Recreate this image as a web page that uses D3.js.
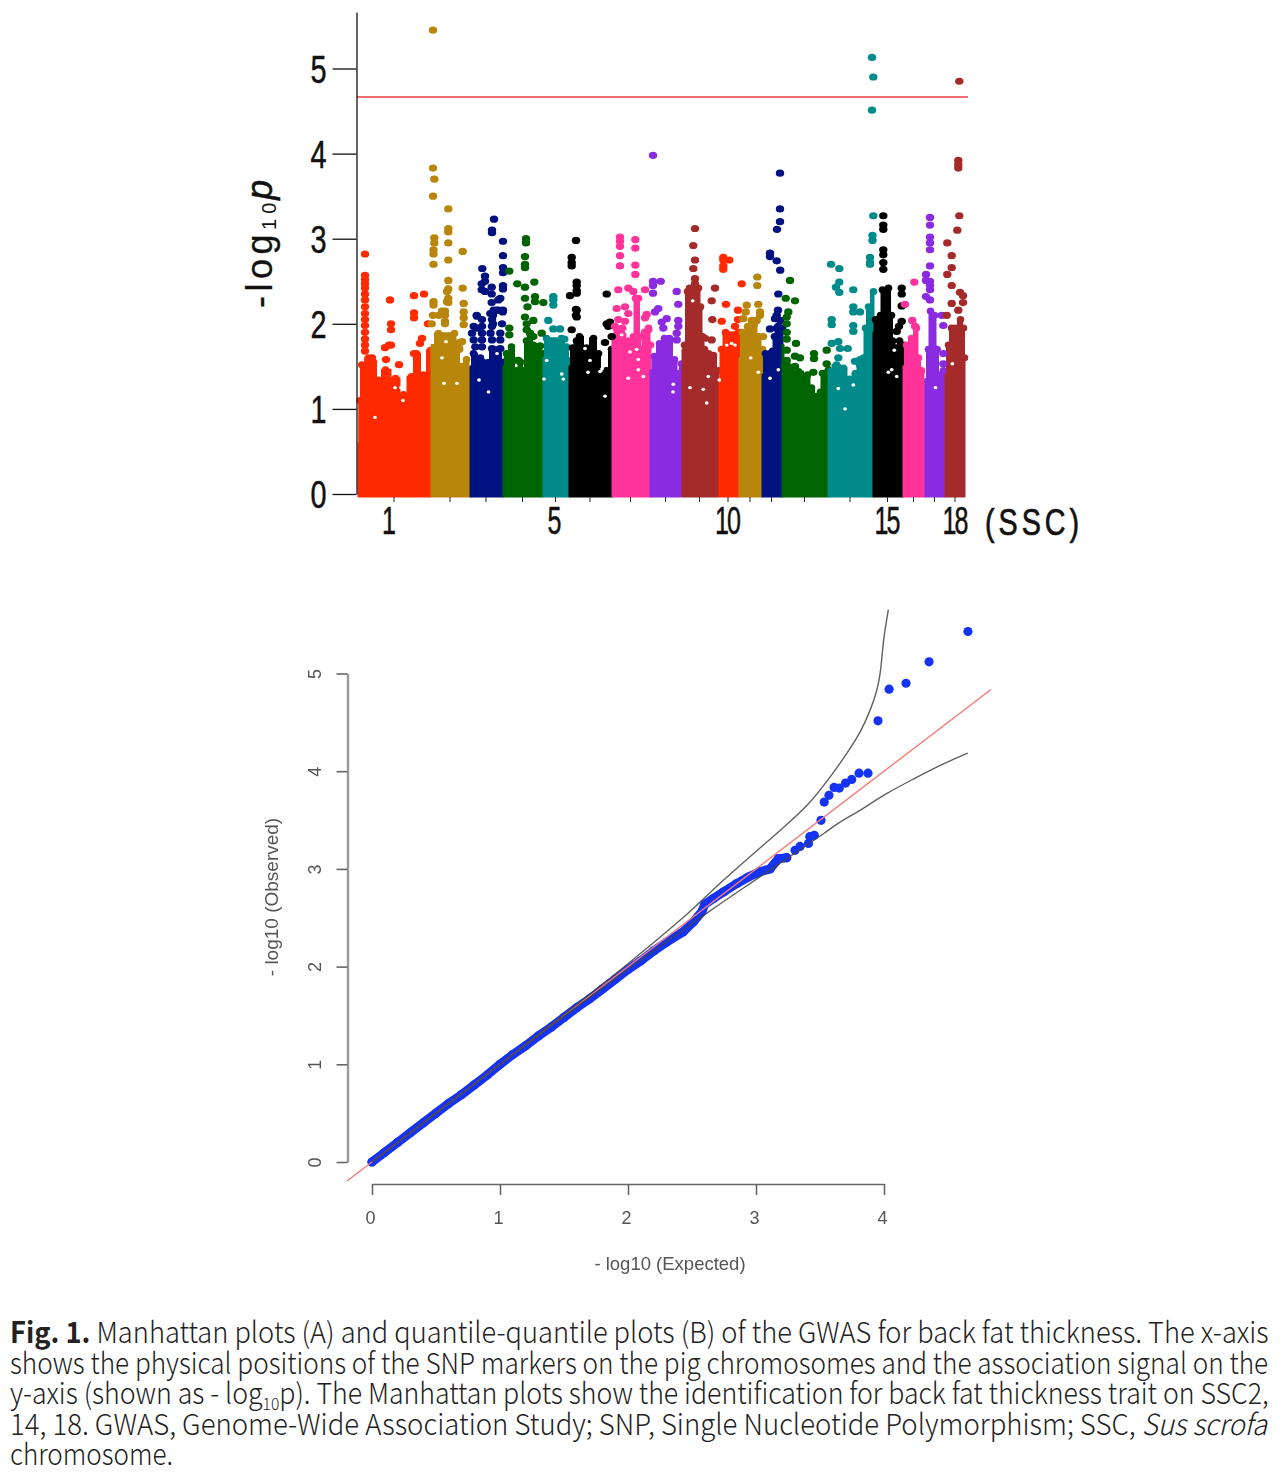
<!DOCTYPE html>
<html><head><meta charset="utf-8">
<script src="https://cdn.jsdelivr.net/npm/d3@7/dist/d3.min.js"></script>
<style>html,body{margin:0;padding:0;background:#fff}svg{display:block}</style></head>
<body><svg id="c" width="1288" height="1475"></svg>
<script>
// ---------- Manhattan plot (A) ----------
const chrNames=["1","2","3","4","5","6","7","8","9","10","11","12","13","14","15","16","17","18"];
const chrShownLabels=["1","5","10","15","18"];
// cumulative genome position of chromosome boundaries (arbitrary units)
const chrBounds=[0,73,112,145,185,211,254,292,324,360,381,404,424,470,515,545,567,587,608];
const chrColors=["#ff2a00","#b8860b","#00127f","#006400","#008b8b","#000000","#ff3399","#8a2be2","#a52a2a"];
const thresholdP=4.665;
const yTicks=[0,1,2,3,4,5];

// solid ceiling of each chromosome's cloud: [position, -log10 p]
const ceil1=[[0,.6],[1.5,1.1],[3.3,1.52],[10,1.6],[15,1.55],[20,1.34],[27,1.46],[37,1.36],[45,1.17],[53,1.38],[58,1.65],[65,1.4],[72,1.69]];
const ceil2=[[73,1.75],[80,1.89],[96,1.89],[98,1.68],[103,1.5],[108,1.58],[112,1.45]];
const ceil3=[[112,1.5],[115,1.65],[122,1.6],[128,1.55],[135,1.7],[140,1.7],[145,1.55]];
const ceil4=[[145,1.5],[148,1.65],[153,1.73],[158,1.45],[162,1.55],[165,1.45],[168,1.8],[172,1.85],[175,1.75],[180,1.7],[185,1.65]];
const ceil5=[[185,1.6],[188,1.83],[203,1.83],[208,1.73],[211,1.57]];
const ceil6=[[211,1.5],[214,1.72],[218,1.8],[221,1.85],[228,1.72],[235,1.83],[240,1.65],[243,1.4],[248,1.45],[253,1.7],[254,1.7]];
const ceil7=[[254,1.8],[258,1.95],[264,1.95],[270,1.8],[275,1.85],[277,2.3],[280,2.3],[281,1.85],[283,1.7],[286,1.9],[290,1.95],[292,1.75]];
const ceil8=[[292,1.45],[296,1.62],[301,1.77],[306,1.83],[311,1.83],[316,1.58],[320,1.42],[323,1.53]];
const ceil9=[[324,1.7],[326,1.75],[329,2.38],[331,2.42],[340,2.42],[342,2.2],[344,1.85],[346,1.7],[350,1.6],[355,1.63],[360,1.45]];
const ceil10=[[361,1.3],[363,1.7],[367,1.9],[380,1.9],[381,1.85]];
const ceil11=[[381,1.6],[384,1.9],[390,1.95],[396,2],[400,1.85],[404,1.7]];
const ceil12=[[404,1.4],[407,1.65],[414,1.68],[416,1.85],[418,1.95],[424,1.95]];
const ceil13=[[424,1.75],[426,1.5],[430,1.5],[440,1.44],[449,1.4],[453,1.25],[458,1.15],[462,1.2],[464,1.42],[470,1.46]];
const ceil14=[[470,1.47],[478,1.52],[485,1.48],[491,1.35],[497,1.42],[501,1.52],[505,1.6],[507,1.95],[510,2.2],[515,2.38]];
const ceil15=[[515,1.9],[517,2.05],[522,2.1],[524,2.4],[530,2.42],[533,2.1],[534,1.8],[538,1.72],[541,1.8],[545,1.75]];
const ceil16=[[545,1.5],[548,1.75],[553,1.83],[558,1.95],[560,1.6],[563,1.45],[567,1.3]];
const ceil17=[[567,1.35],[570,1.7],[572,2.15],[576,2.1],[578,1.7],[581,1.4],[585,1.45],[587,1.4]];
const ceil18=[[587,1.4],[590,1.75],[593,1.95],[597,1.95],[602,2.05],[605,1.95],[606,1.6]];
const ceilings=[ceil1,ceil2,ceil3,ceil4,ceil5,ceil6,ceil7,ceil8,ceil9,ceil10,ceil11,ceil12,ceil13,ceil14,ceil15,ceil16,ceil17,ceil18];

// separate visible markers: [position, [values...]]
const peaks1=[[8,[2.82,2.57,2.52,2.47,2.42,2.35,2.28,2.2,2.12,2.05,1.98,1.9,1.82,1.75,1.68]],[33,[2.28]],[57,[2.33,2.13,2.07,1.65]],[67,[2.35]],[34,[2,1.93,1.75]],[32,[1.75]],[28,[1.72]],[29,[1.58]],[42,[1.52]],[15,[1.6]],[71,[2]],[65,[1.83]],[63,[1.77]]];
const peaks2=[[76,[5.45,3.83,3.5,2.1]],[77.3,[3.7,3.01,2.95]],[76.5,[2.87,2.82,2.7,2.26,2.22]],[74.7,[2]],[91.3,[3.35,3.12,3.08,2.95,2.75,2.51,2.41,2.3,2.25]],[105.7,[2.85,2.42]],[106.7,[2.24,2.14,2.07,1.99]],[102.3,[1.78,1.7]],[88,[2.15,2.1,2.03,2]],[85,[2.15]],[81.7,[2.1]],[90,[2.38,2.26]],[105,[1.79]],[101.7,[1.73]]];
const peaks3=[[137,[3.23]],[135,[3.1,3.07,2.05,1.97,1.81,1.71]],[146,[2.97,2.8,2.66,2.6,2.45,2.41,2.16]],[125.3,[2.65]],[128,[2.56,2.5,2.38]],[124.7,[2.47,2.4]],[134.7,[2.43,2.35,2.25]],[141.3,[2.28]],[139.7,[2.16]],[119.7,[2.1,1.95]],[136,[2.1,2]],[116.7,[1.97,1.81]],[115,[1.89]],[118.3,[1.73]],[120,[2.09]],[125,[2.05,1.97,1.89,1.81,1.73]],[133.3,[2.12]],[136.7,[2.16]],[133.5,[1.89]],[141.7,[2.16]],[145.7,[2.14]],[145,[2]],[143.3,[2.3,1.89,1.81,1.71]]];
const peaks4=[[152.3,[2.62,1.95,1.87]],[169,[3,2.95]],[168,[2.79,2.7,2.66,2.43,2.3,2.08]],[160.3,[2.47]],[177.3,[2.49]],[178,[2.32,2.26]],[186.3,[2.25]],[170.5,[2.2]],[169.7,[2,1.93]],[176.3,[2.04,1.85]],[173,[1.89]],[184.7,[1.89]],[183,[1.74]],[161.3,[1.57]],[156.3,[1.57]]];
const peaks5=[[196.3,[2.32,2.28,2.22,1.94]],[191.3,[2.04]],[203,[1.94]],[207.3,[1.82]]];
const peaks6=[[219,[2.98,2.17,2.1]],[214.7,[2.78,2.72,2.68,1.93]],[219.7,[2.49,2.45,2.39,2.36,2.16,2.08]],[213,[2.33]],[249.7,[2.35,2]],[251.3,[1.97]],[253,[2.02]],[248,[1.78]],[254.7,[1.85]]];
const peaks7=[[263,[3.02,2.97,2.91,2.8,2.68]],[278.3,[2.99,2.89,2.69,2.58]],[261.3,[2.4,2.05]],[271.3,[2.42,2.12]],[276.3,[2.38]],[288,[2.4,2.07]],[259.7,[2.18]],[268,[2.2,2.03]],[258,[1.97]],[289.7,[2.11]],[291.3,[1.93]]];
const peaks8=[[296,[3.98,2.5,2.45,2.36]],[303.7,[2.5]],[298,[2.14]],[301.3,[2.18]],[309.7,[2.06,1.81]],[304.7,[2.02]],[306.3,[1.95]],[319.7,[2.38,1.89,1.81]],[321.3,[2.23,2.04,1.97]]];
const peaks9=[[338,[3.12,2.75,2.53,2.47]],[336.3,[2.92,2.65]],[358,[2.42]],[354.7,[2.27,1.81]],[355.3,[2.05]],[348,[1.83]],[351.3,[1.65]]];
const peaks10=[[366.3,[2.78,2.75,2.68,2.64]],[372.3,[2.75]],[369,[2.23]],[364.7,[2.03]],[384.7,[2.47]],[381,[2.16,2.05]],[378,[1.97]]];
const peaks11=[[400.3,[2.55,2.45]],[389.7,[2.22]],[401.3,[2.23]],[388.7,[2.14]],[403,[2.14,2.1]],[386.3,[2.06]],[394.7,[2.04]],[399.7,[2.04]],[391,[1.97]],[406,[1.85]]];
const peaks12=[[423,[3.77,3.35,3.2]],[420,[3.11]],[413,[2.83,2.79,1.94]],[419.7,[2.74,2.1]],[423.2,[2.63,2.04]],[421.3,[2.35,1.97]],[421,[2.16]],[418,[2.06]]];
const peaks13=[[428.7,[2.3]],[433,[2.51]],[438,[2.27,1.62,1.5]],[431.3,[2.14]],[429.7,[2.08,2,1.9,1.82,1.69,1.57]],[439,[1.77]],[443,[1.6]],[457,[1.65,1.59]],[456.3,[1.43]],[469.7,[1.69,1.53]]];
const peaks14=[[515,[5.13,4.51]],[516.3,[4.9,3.27]],[515.5,[3.04,2.98]],[513,[2.78,2.72,2.7]],[474,[2.7]],[482.3,[2.65,2.49,2.37]],[479,[2.43]],[496.3,[2.4,2.2,2.14,1.98,1.91]],[474.7,[2.05,1.99,1.77]],[503,[2.14,1.58]],[481.3,[1.79,1.6]],[483,[1.71]],[490.7,[1.71]],[498,[1.56]]];
const peaks15=[[526.3,[3.27,3.16,3.11,2.87,2.81,2.72,2.64]],[544.7,[2.42,2.35,2.21,2.03]],[542,[1.97]],[539.7,[1.91]]];
const peaks16=[[557.3,[2.49]],[548,[2.23]],[555.3,[2.04]],[558,[1.97]]];
const peaks17=[[573,[3.25,3.16,3.02,2.95,2.87,2.68,2.5,2.45,2.4,2.28]],[569,[2.58,2.51,2.32]],[584.7,[2.1]],[586.3,[1.98,1.65,1.53]],[579.7,[1.7]]];
const peaks18=[[602.3,[4.85,3.27]],[601.3,[3.92,3.87,3.83,2.16]],[600.3,[3.1]],[590.3,[2.95,2.58]],[594.7,[2.8,2.66,2.45,2.24]],[603,[2.37]],[606,[2.25,2.33]],[589.7,[2.1]],[604,[1.85]]];
const peaks=[peaks1,peaks2,peaks3,peaks4,peaks5,peaks6,peaks7,peaks8,peaks9,peaks10,peaks11,peaks12,peaks13,peaks14,peaks15,peaks16,peaks17,peaks18];
// small white gaps visible inside the clouds: [position, -log10 p]
const cloudGaps=[[44,1.25],[46,1.1],[18,.9],[38,1.25],[89,1.79],[85,1.6],[100,1.3],[87,1.3],[128.3,1.8],[128.3,1.7],[129,1.6],[122,1.34],[131.5,1.2],[140,1.65],[204.7,1.41],[206.3,1.35],[189.7,1.57],[187,1.35],[243,1.44],[245,1.47],[228,1.71],[231,1.43],[233,1.57],[248,1.15],[269.7,1.91],[264.7,1.87],[279.7,1.7],[273,1.67],[281.3,1.46],[286.3,1.38],[271.3,1.36],[281.3,1.58],[316.3,1.29],[316,1.2],[335.7,2.27],[351.3,1.38],[333,1.25],[346.3,1.23],[349.7,1.07],[362.3,1.34],[374.7,1.77],[369.7,1.75],[378,1.75],[393.7,1.6],[401.3,1.43],[421.3,1.46],[413,1.36],[496.3,1.28],[481.3,1.24],[488,1],[537.3,1.69],[534.7,1.46],[531.3,1.43],[539.7,1.38],[595.3,1.53],[578.5,1.25]];

// ---------- QQ plot (B) ----------
const qqExpected=[0,.1,.2,.3,.4,.5,.6,.7,.8,.9,1,1.1,1.2,1.3,1.4,1.5,1.6,1.7,1.8,1.9,2,2.1,2.2,2.3,2.43,2.51,2.576,2.6,2.667,2.745,2.85,2.94,3.03,3.11,3.175,3.24,3.305,3.344,3.41,3.42,3.455,3.508,3.533,3.57,3.61,3.651,3.7,3.748,3.805,3.875,3.953,4.04,4.172,4.352,4.656];
const qqObserved=[0,.1,.2,.3,.4,.5,.6,.69,.79,.89,1,1.1,1.19,1.29,1.38,1.48,1.58,1.67,1.77,1.87,1.97,2.06,2.16,2.25,2.355,2.457,2.56,2.638,2.696,2.763,2.85,2.917,2.97,3,3.105,3.115,3.19,3.23,3.26,3.33,3.344,3.497,3.684,3.753,3.834,3.827,3.878,3.916,3.98,3.98,4.516,4.84,4.9,5.12,5.43];
const bandUpper=[[0,0],[.5,.5],[1,1],[1.5,1.51],[2,2.03],[2.406,2.474],[2.5625,2.66],[2.745,2.883],[2.98,3.156],[3.19,3.395],[3.41,3.667],[3.578,3.94],[3.708,4.18],[3.8125,4.4],[3.89,4.62],[3.943,4.826],[3.969,4.997],[4,5.37],[4.034,5.654]];
const bandLower=[[0,0],[1,1],[1.5,1.49],[2,1.97],[2.63,2.56],[2.99,2.883],[3.318,3.175],[3.527,3.36],[3.63,3.456],[3.8125,3.6],[4.02,3.77],[4.23,3.92],[4.44,4.06],[4.654,4.185]];
const qqRefLine=[-0.195,4.836];
const qqXTicks=[0,1,2,3,4];
const qqYTicks=[0,1,2,3,4,5];

// ---------- Caption ----------
const captionLines=[
 [["Fig. 1.",{b:1}],[" Manhattan plots (A) and quantile-quantile plots (B) of the GWAS for back fat thickness. The x-axis"]],
 [["shows the physical positions of the SNP markers on the pig chromosomes and the association signal on the"]],
 [["y-axis (shown as - log"],["10",{s:1}],["p). The Manhattan plots show the identification for back fat thickness trait on SSC2,"]],
 [["14, 18. GWAS, Genome-Wide Association Study; SNP, Single Nucleotide Polymorphism; SSC, "],["Sus scrofa",{i:1}]],
 [["chromosome."]]
];
const captionWidths=[1259,1259,1259,1258,163];

const svg=d3.select("#c");
const SANS="'Liberation Sans',Arial,sans-serif";

// Manhattan
const x=d3.scaleLinear().domain([0,608]).range([357,965]);
const y=d3.scaleLinear().domain([0,5.664]).range([494,12]);
const gM=svg.append("g").style("filter","blur(0.5px)");
const colorOf=i=>chrColors[i%chrColors.length];
const area=d3.area().x(d=>x(d[0])).y0(y(-0.03)).y1(d=>y(d[1])).curve(d3.curveStep);
const gMass=gM.append("g").attr("transform","translate(1.5,0)");
ceilings.forEach((c,i)=>{
  gMass.append("path").datum(c).attr("d",area).attr("fill",colorOf(i)).attr("stroke",colorOf(i)).attr("stroke-width",2).attr("stroke-linejoin","round");
  gMass.selectAll(null).data(c.slice(1)).join("ellipse").attr("cx",d=>x(d[0])).attr("cy",d=>y(d[1])).attr("rx",3.8).attr("ry",3.5).attr("fill",colorOf(i));
});
gM.selectAll(null).data(cloudGaps).join("ellipse").attr("cx",d=>x(d[0])).attr("cy",d=>y(d[1])).attr("rx",1.9).attr("ry",1.7).attr("fill","#fff");
peaks.forEach((p,i)=>{
  const flat=p.flatMap(([pos,vals])=>vals.map(v=>[pos,v]));
  gM.selectAll(null).data(flat).join("ellipse").attr("cx",d=>x(d[0])).attr("cy",d=>y(d[1])).attr("rx",4.2).attr("ry",3.6).attr("fill",colorOf(i));
});
gM.append("line").attr("x1",x(0)).attr("x2",968).attr("y1",y(thresholdP)).attr("y2",y(thresholdP)).attr("stroke","#f26d6d").attr("stroke-width",1.8);

const ay=d3.axisLeft(y).tickValues(yTicks).tickSize(24).tickSizeOuter(0).tickFormat(d3.format("d"));
const gAy=svg.append("g").attr("transform","translate(356.5,0)").call(ay);
gAy.selectAll("path,line").attr("stroke","#111").attr("stroke-width",1.3);
gAy.selectAll("text").attr("x",0).attr("dy",".36em").attr("text-anchor","middle").attr("transform","translate(-38,-0.5) scale(.74,1)")
  .style("font",`39px ${SANS}`).attr("fill","#111").attr("stroke","#111").attr("stroke-width",.5);

const mids=chrBounds.slice(0,-1).map((b,i)=>(b+chrBounds[i+1])/2);
const ax=d3.axisBottom(x).tickValues(mids).tickSize(5).tickSizeOuter(0).tickFormat((d,i)=>chrShownLabels.includes(chrNames[i])?chrNames[i]:"");
const gAx=svg.append("g").attr("transform","translate(0,497)").call(ax);
gAx.select(".domain").remove();
gAx.selectAll("line").attr("stroke","#222").attr("stroke-width",1);
const nudge={"1":-6,"5":-2,"10":-1,"15":-1,"18":-0.5};
gAx.selectAll("text").attr("y",0).attr("dy",0).attr("text-anchor","middle").attr("transform",function(){return `translate(${nudge[this.textContent]||0},37) scale(.66,1)`;})
  .style("font",`38px ${SANS}`).style("letter-spacing","-3px").attr("fill","#111").attr("stroke","#111").attr("stroke-width",.5);

svg.append("text").attr("transform","translate(985,535)").style("font",`36px ${SANS}`).style("letter-spacing","5px").attr("textLength",98).attr("lengthAdjust","spacingAndGlyphs").attr("fill","#111").attr("stroke","#111").attr("stroke-width",.7).text("(SSC)");

const yt=svg.append("text").attr("transform","translate(272,308) rotate(-90)").attr("fill","#111").style("font",`36px ${SANS}`);
yt.append("tspan").text("-log").style("letter-spacing","4.5px").attr("stroke","#111").attr("stroke-width",.3);
yt.append("tspan").text("10").style("font-size","20px").style("letter-spacing","5px").attr("dy",4);
yt.append("tspan").text("p").style("font-style","italic").attr("dy",-4).attr("dx",-2).attr("stroke","#111").attr("stroke-width",.5);

// QQ
const qx=d3.scaleLinear().domain([0,4]).range([372,884]);
const qy=d3.scaleLinear().domain([0,5]).range([1162,673.5]);
const gQ=svg.append("g").style("filter","blur(0.6px)");
const qqPts=qqExpected.map((e,i)=>[e,qqObserved[i]]);
const line=d3.line().x(d=>qx(d[0])).y(d=>qy(d[1]));
gQ.append("path").datum(qqPts.slice(0,36)).attr("d",line).attr("fill","none").attr("stroke","#1433f5").attr("stroke-width",9).attr("stroke-linecap","round");
gQ.selectAll(null).data(qqPts).join("circle").attr("cx",d=>qx(d[0])).attr("cy",d=>qy(d[1])).attr("r",4.6).attr("fill","#1433f5");
gQ.append("line").attr("x1",qx(qqRefLine[0])).attr("y1",qy(qqRefLine[0])).attr("x2",qx(qqRefLine[1])).attr("y2",qy(qqRefLine[1])).attr("stroke","#f47a7a").attr("stroke-width",1.4);
[bandUpper,bandLower].forEach(b=>gQ.append("path").datum(b).attr("d",line.curve(d3.curveCatmullRom)).attr("fill","none").attr("stroke","#444").attr("stroke-opacity",.85).attr("stroke-width",1.4));
line.curve(d3.curveLinear);

const qax=d3.axisBottom(qx).tickValues(qqXTicks).tickSize(11).tickSizeOuter(0).tickFormat(d3.format("d"));
const gQx=svg.append("g").attr("transform","translate(0,1184)").call(qax).style("filter","blur(0.4px)");
gQx.selectAll("path,line").attr("stroke","#666").attr("stroke-width",1.6);
gQx.selectAll("text").attr("x",-2).attr("y",34).attr("dy",".36em").style("font",`18px ${SANS}`).attr("fill","#555");
const qay=d3.axisLeft(qy).tickValues(qqYTicks).tickSize(11).tickSizeOuter(0).tickFormat(d3.format("d"));
const gQy=svg.append("g").attr("transform","translate(347.5,0)").call(qay).style("filter","blur(0.4px)");
gQy.selectAll("path,line").attr("stroke","#666").attr("stroke-width",1.6);
gQy.selectAll("text").attr("x",0).attr("dy",0).attr("text-anchor","middle").attr("transform","translate(-33,0) rotate(-90) translate(0,6)").style("font",`18px ${SANS}`).attr("fill","#555");
svg.append("text").attr("x",670).attr("y",1270).attr("text-anchor","middle").style("font",`18.5px ${SANS}`).style("filter","blur(0.4px)").attr("fill","#555").text("- log10 (Expected)");
svg.append("text").attr("transform","translate(278,897) rotate(-90)").attr("text-anchor","middle").style("font",`19px ${SANS}`).style("filter","blur(0.4px)").attr("fill","#555").text("- log10 (Observed)");

// Caption
const capBase=[1343,1374,1404,1435,1465];
captionLines.forEach((ln,i)=>{
  const t=svg.append("text").attr("x",0).attr("y",0).attr("fill","#222").style("font","300 29px 'Noto Sans CJK KR','Noto Sans',sans-serif");
  let prevSub=false;
  ln.forEach(([s,o])=>{
    const sp=t.append("tspan").text(s).style("white-space","pre");
    if(o&&o.b) sp.style("font-weight","700");
    if(o&&o.i) sp.style("font-style","italic");
    if(o&&o.s){sp.style("font-size","17px").attr("dy",6);prevSub=true;}
    else if(prevSub){sp.attr("dy",-6);prevSub=false;}
  });
  t.style("white-space","pre");
  const w=t.node().getComputedTextLength();
  t.attr("transform",`translate(10,${capBase[i]}) scale(${captionWidths[i]/w},1)`);
});
</script></body></html>
